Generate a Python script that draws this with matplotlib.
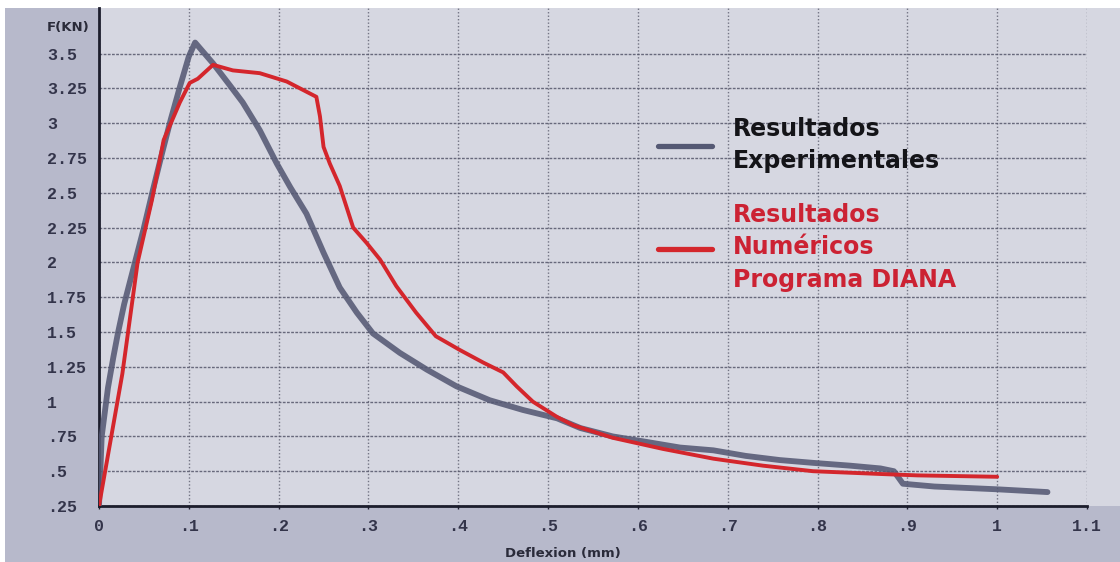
import matplotlib
matplotlib.use("Agg")
import matplotlib.pyplot as plt
from matplotlib.patches import Rectangle

# Experimental load-deflection curve
exp_x = [0.0, 0.003, 0.010, 0.016, 0.021, 0.028, 0.038, 0.050, 0.060, 0.070, 0.080,
         0.090, 0.100, 0.107, 0.115, 0.127, 0.146, 0.160, 0.179, 0.198, 0.213,
         0.231, 0.250, 0.268, 0.287, 0.305, 0.335, 0.365, 0.398, 0.435, 0.472,
         0.510, 0.536, 0.572, 0.610, 0.647, 0.684, 0.720, 0.758, 0.795, 0.836,
         0.870, 0.885, 0.895, 0.930, 1.000, 1.056]
exp_f = [0.25, 0.75, 1.10, 1.32, 1.49, 1.70, 1.95, 2.25, 2.52, 2.78, 3.03,
         3.26, 3.48, 3.58, 3.52, 3.43, 3.27, 3.15, 2.95, 2.71, 2.54,
         2.35, 2.07, 1.82, 1.64, 1.49, 1.35, 1.23, 1.11, 1.01, 0.94,
         0.88, 0.81, 0.75, 0.71, 0.67, 0.65, 0.61, 0.58, 0.56, 0.54,
         0.52, 0.50, 0.41, 0.39, 0.37, 0.35]

# Numerical (DIANA) load-deflection curve
num_x = [0.0, 0.026, 0.043, 0.059, 0.072, 0.090, 0.101, 0.110, 0.127, 0.149,
         0.179, 0.209, 0.242, 0.246, 0.250, 0.257, 0.268, 0.283, 0.298, 0.313,
         0.331, 0.353, 0.375, 0.402, 0.428, 0.450, 0.465, 0.483, 0.510, 0.528,
         0.572, 0.628, 0.684, 0.739, 0.795, 0.870, 0.911, 1.000]
num_f = [0.25, 1.20, 2.00, 2.45, 2.88, 3.15, 3.29, 3.32, 3.42, 3.38,
         3.36, 3.30, 3.19, 3.05, 2.83, 2.71, 2.55, 2.25, 2.14, 2.02,
         1.83, 1.64, 1.47, 1.37, 1.28, 1.21, 1.11, 1.00, 0.89, 0.83,
         0.74, 0.66, 0.59, 0.54, 0.50, 0.48, 0.47, 0.46]

y_ticks = [0.25, 0.5, 0.75, 1.0, 1.25, 1.5, 1.75, 2.0, 2.25, 2.5, 2.75, 3.0, 3.25, 3.5]
y_labels = [".25", ".5", ".75", "1", "1.25", "1.5", "1.75", "2", "2.25", "2.5",
            "2.75", "3", "3.25", "3.5"]
x_ticks = [0.0, 0.1, 0.2, 0.3, 0.4, 0.5, 0.6, 0.7, 0.8, 0.9, 1.0, 1.1]
x_labels = ["0", ".1", ".2", ".3", ".4", ".5", ".6", ".7", ".8", ".9", "1", "1.1"]

legend_labels = ["Resultados\nExperimentales", "Resultados\nNuméricos\nPrograma DIANA"]

W, H = 1120, 562
OUTER = "#b7b9cb"
INNER = "#d6d7e1"
GRAY = "#555974"
RED = "#d4262c"

fig = plt.figure(figsize=(W / 100, H / 100), dpi=100, facecolor="white")

def px_rect(x0, y0, x1, y1, color):
    # rectangle given in pixel coordinates measured from the top-left corner
    fig.patches.append(Rectangle((x0 / W, 1 - y1 / H), (x1 - x0) / W, (y1 - y0) / H,
                                 transform=fig.transFigure, facecolor=color,
                                 edgecolor="none", zorder=-10))

px_rect(5, 8, W, H, OUTER)
px_rect(1087, 8, W, 506, INNER)

ax_l, ax_r, ax_t, ax_b = 99, 1087, 8, 506
ax = fig.add_axes([ax_l / W, 1 - ax_b / H, (ax_r - ax_l) / W, (ax_b - ax_t) / H])
ax.set_facecolor(INNER)
ax.set_xlim(0, 1.1)
ax.set_ylim(0.25, 1 + (401.7 - 8) / 139.2)

ax.set_yticks(y_ticks)
ax.set_yticklabels(y_labels, ha="left")
ax.set_xticks(x_ticks)
ax.set_xticklabels(x_labels)
for lab in ax.get_yticklabels() + ax.get_xticklabels():
    lab.set_fontfamily("Liberation Mono")
    lab.set_fontweight("bold")
    lab.set_fontsize(12)
    lab.set_color("#33344a")
ax.tick_params(axis="y", length=0, pad=37.4)
ax.tick_params(axis="x", length=2.5, width=1, color="#222233", pad=7)

for s in ("top", "right"):
    ax.spines[s].set_visible(False)
for s in ("left", "bottom"):
    ax.spines[s].set_color("#1c1d2c")
    ax.spines[s].set_linewidth(2.0)

ax.grid(axis="y", color="#55566a", linestyle=(0, (2, 1)), linewidth=1.0, alpha=0.85)
ax.grid(axis="x", color="#5a5b6c", linestyle=(0, (1, 1.5)), linewidth=1.0, alpha=0.8)
ax.set_axisbelow(True)

ax.plot(exp_x, exp_f, color=GRAY, linewidth=4.2, alpha=0.88, solid_capstyle="round",
        solid_joinstyle="round", label=legend_labels[0], zorder=3)
ax.plot(num_x, num_f, color=RED, linewidth=2.8, solid_capstyle="round",
        solid_joinstyle="round", label=legend_labels[1], zorder=4)

ax.set_ylabel("F(KN)", rotation=0, ha="left", va="center", fontsize=9.5,
              fontweight="bold", color="#2a2b3a")
ax.yaxis.set_label_coords((47 - ax_l) / (ax_r - ax_l), (ax_b - 28) / (ax_b - ax_t))
ax.set_xlabel("Deflexion (mm)", fontsize=9.5, fontweight="bold", color="#2a2b3a",
              va="center")
ax.xaxis.set_label_coords((563 - ax_l) / (ax_r - ax_l), (ax_b - 553) / (ax_b - ax_t))

leg = ax.legend(loc="upper left",
                bbox_to_anchor=((646 - ax_l) / (ax_r - ax_l), (ax_b - 105) / (ax_b - ax_t)),
                frameon=False, prop=dict(family="DejaVu Sans", weight="bold", size=17),
                handlelength=2.3, handletextpad=0.9, borderpad=0, labelspacing=1.25)
leg.get_texts()[0].set_color("#141418")
leg.get_texts()[1].set_color("#cc2233")
for t in leg.get_texts():
    t.set_linespacing(1.45)
for h in leg.get_lines():
    h.set_linewidth(3.8)
    h.set_alpha(1)

fig.savefig("out.png", dpi=100, facecolor="white")
